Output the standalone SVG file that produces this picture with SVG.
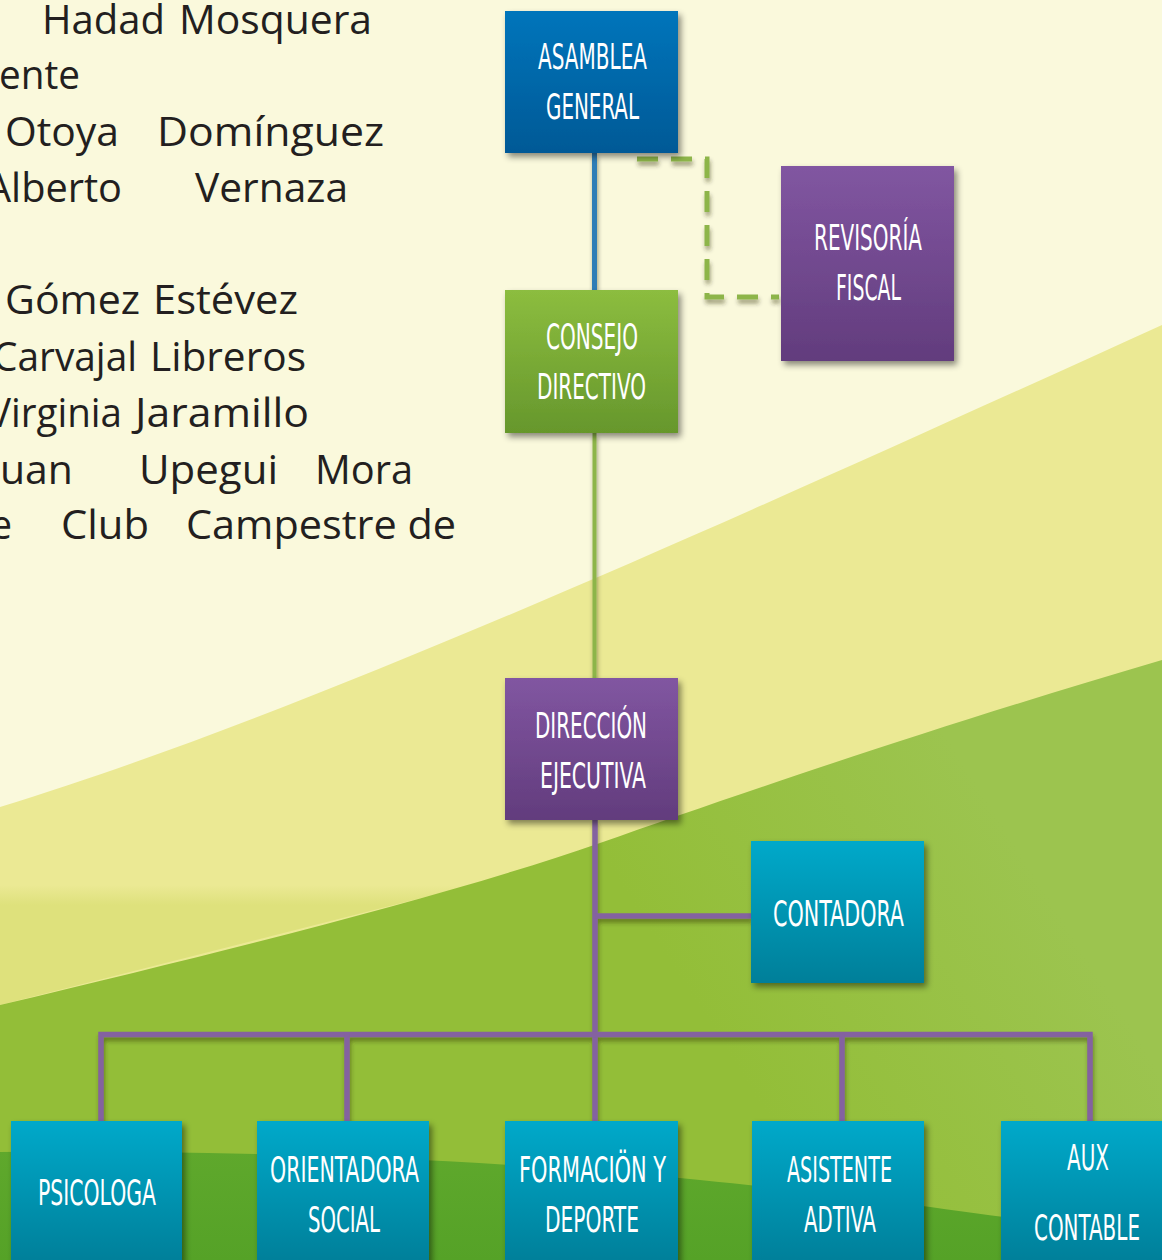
<svg xmlns="http://www.w3.org/2000/svg" width="1162" height="1260" viewBox="0 0 1162 1260">
<style>
.nt{font-family:"Liberation Sans Narrow","DejaVu Sans Condensed","Open Sans",sans-serif;font-size:36px;fill:#ffffff;}
.lt{font-family:"Open Sans","Noto Sans",sans-serif;font-size:40px;fill:#231F20;}
.con{fill:none;stroke-linejoin:miter;stroke-linecap:butt;}
</style>
<defs>
<linearGradient id="gBlue" x1="0" y1="0" x2="0" y2="1"><stop offset="0" stop-color="#0075BB"/><stop offset="1" stop-color="#005996"/></linearGradient>
<linearGradient id="gPurple" x1="0" y1="0" x2="0" y2="1"><stop offset="0" stop-color="#8156A1"/><stop offset="1" stop-color="#623C7D"/></linearGradient>
<linearGradient id="gGreen" x1="0" y1="0" x2="0" y2="1"><stop offset="0" stop-color="#8CBD3F"/><stop offset="1" stop-color="#66972C"/></linearGradient>
<linearGradient id="gTeal" x1="0" y1="0" x2="0" y2="1"><stop offset="0" stop-color="#00A9CA"/><stop offset="1" stop-color="#007F99"/></linearGradient>
<linearGradient id="gHill" x1="0" y1="0" x2="0" y2="1"><stop offset="0" stop-color="#5FA82C"/><stop offset="1" stop-color="#55A227"/></linearGradient>
<linearGradient id="gField" gradientUnits="userSpaceOnUse" x1="700" y1="1010" x2="1000" y2="820"><stop offset="0" stop-color="#93BE38"/><stop offset="1" stop-color="#9CC44F"/></linearGradient>
<linearGradient id="gBand" gradientUnits="userSpaceOnUse" x1="0" y1="885" x2="0" y2="905"><stop offset="0" stop-color="#EBE994"/><stop offset="1" stop-color="#DEE17C"/></linearGradient>
<filter id="sh" x="-20%" y="-20%" width="140%" height="140%"><feDropShadow dx="3" dy="4" stdDeviation="3" flood-color="#000" flood-opacity="0.45"/></filter>
<filter id="shl" x="-5%" y="-5%" width="110%" height="110%"><feDropShadow dx="1" dy="4" stdDeviation="2" flood-color="#2a2a10" flood-opacity="0.45"/></filter>
</defs>

<g id="background">
<rect x="0" y="0" width="1162" height="1260" fill="#FAF9DC"/>
<path d="M0,807 C300,715 700,535 1162,325 L1162,1260 L0,1260 Z" fill="#EBE994"/>
<path d="M0,880 L520,880 L520,873 L0,1005 Z" fill="url(#gBand)"/>
<path d="M0,1005 C250,945 450,895 600,843 C750,790 950,722 1162,660 L1162,1260 L0,1260 Z" fill="url(#gField)"/>
<path d="M0,1152 C250,1150 500,1160 700,1180 C900,1200 1050,1225 1162,1238 L1162,1260 L0,1260 Z" fill="url(#gHill)"/>
</g>

<g id="left-text">
<text class="lt" x="42" y="34" textLength="123" lengthAdjust="spacingAndGlyphs">Hadad</text>
<text class="lt" x="179" y="34" textLength="193" lengthAdjust="spacingAndGlyphs">Mosquera</text>
<text class="lt" x="-1" y="89" textLength="81" lengthAdjust="spacingAndGlyphs">ente</text>
<text class="lt" x="5" y="146" textLength="114" lengthAdjust="spacingAndGlyphs">Otoya</text>
<text class="lt" x="157" y="146" textLength="227" lengthAdjust="spacingAndGlyphs">Domínguez</text>
<text class="lt" x="-14" y="202" textLength="136" lengthAdjust="spacingAndGlyphs">Alberto</text>
<text class="lt" x="195" y="202" textLength="153" lengthAdjust="spacingAndGlyphs">Vernaza</text>
<text class="lt" x="5" y="314" textLength="135" lengthAdjust="spacingAndGlyphs">Gómez</text>
<text class="lt" x="153" y="314" textLength="145" lengthAdjust="spacingAndGlyphs">Estévez</text>
<text class="lt" x="-7" y="371" textLength="144" lengthAdjust="spacingAndGlyphs">Carvajal</text>
<text class="lt" x="150" y="371" textLength="156" lengthAdjust="spacingAndGlyphs">Libreros</text>
<text class="lt" x="-12" y="427" textLength="134" lengthAdjust="spacingAndGlyphs">Virginia</text>
<text class="lt" x="135" y="427" textLength="174" lengthAdjust="spacingAndGlyphs">Jaramillo</text>
<text class="lt" x="0" y="484" textLength="73" lengthAdjust="spacingAndGlyphs">uan</text>
<text class="lt" x="139" y="484" textLength="139" lengthAdjust="spacingAndGlyphs">Upegui</text>
<text class="lt" x="315" y="484" textLength="98" lengthAdjust="spacingAndGlyphs">Mora</text>
<text class="lt" x="-9" y="539" textLength="21" lengthAdjust="spacingAndGlyphs">e</text>
<text class="lt" x="61" y="539" textLength="88" lengthAdjust="spacingAndGlyphs">Club</text>
<text class="lt" x="186" y="539" textLength="270" lengthAdjust="spacingAndGlyphs">Campestre de</text>
</g>

<g id="connectors" filter="url(#shl)">
<line class="con" x1="594.5" y1="153" x2="594.5" y2="290" stroke="#2F7DB6" stroke-width="5"/>
<line class="con" x1="594.5" y1="433" x2="594.5" y2="678" stroke="#8DB54A" stroke-width="4"/>
<polyline class="con" points="637,159 707,159 707,297 779,297" stroke="#8DB54A" stroke-width="5" stroke-dasharray="21 13"/>
<line class="con" x1="595" y1="820" x2="595" y2="1123" stroke="#8462A0" stroke-width="5.5"/>
<line class="con" x1="595" y1="916" x2="751" y2="916" stroke="#8462A0" stroke-width="5.5"/>
<polyline class="con" points="101,1123 101,1034.5 1090,1034.5 1090,1123" stroke="#8462A0" stroke-width="5.5"/>
<line class="con" x1="347" y1="1034.5" x2="347" y2="1123" stroke="#8462A0" stroke-width="5.5"/>
<line class="con" x1="842" y1="1034.5" x2="842" y2="1123" stroke="#8462A0" stroke-width="5.5"/>
</g>

<g id="asamblea-general">
<rect x="505" y="11" width="173" height="142" fill="url(#gBlue)" filter="url(#sh)"/>
<text class="nt" x="538" y="69" textLength="109" lengthAdjust="spacingAndGlyphs">ASAMBLEA</text>
<text class="nt" x="546" y="119" textLength="93" lengthAdjust="spacingAndGlyphs">GENERAL</text>
</g>
<g id="revisoria-fiscal">
<rect x="781" y="166" width="173" height="195" fill="url(#gPurple)" filter="url(#sh)"/>
<text class="nt" x="814" y="250" textLength="108" lengthAdjust="spacingAndGlyphs">REVISORÍA</text>
<text class="nt" x="836" y="300" textLength="65" lengthAdjust="spacingAndGlyphs">FISCAL</text>
</g>
<g id="consejo-directivo">
<rect x="505" y="290" width="173" height="143" fill="url(#gGreen)" filter="url(#sh)"/>
<text class="nt" x="546" y="349" textLength="92" lengthAdjust="spacingAndGlyphs">CONSEJO</text>
<text class="nt" x="537" y="399" textLength="109" lengthAdjust="spacingAndGlyphs">DIRECTIVO</text>
</g>
<g id="direccion-ejecutiva">
<rect x="505" y="678" width="173" height="142" fill="url(#gPurple)" filter="url(#sh)"/>
<text class="nt" x="535" y="738" textLength="112" lengthAdjust="spacingAndGlyphs">DIRECCIÓN</text>
<text class="nt" x="540" y="788" textLength="106" lengthAdjust="spacingAndGlyphs">EJECUTIVA</text>
</g>
<g id="contadora">
<rect x="751" y="841" width="173" height="142" fill="url(#gTeal)" filter="url(#sh)"/>
<text class="nt" x="773" y="926" textLength="131" lengthAdjust="spacingAndGlyphs">CONTADORA</text>
</g>
<g id="psicologa">
<rect x="11" y="1121" width="171" height="142" fill="url(#gTeal)" filter="url(#sh)"/>
<text class="nt" x="38" y="1205" textLength="118" lengthAdjust="spacingAndGlyphs">PSICOLOGA</text>
</g>
<g id="orientadora-social">
<rect x="257" y="1121" width="172" height="142" fill="url(#gTeal)" filter="url(#sh)"/>
<text class="nt" x="270" y="1182" textLength="149" lengthAdjust="spacingAndGlyphs">ORIENTADORA</text>
<text class="nt" x="308" y="1232" textLength="72" lengthAdjust="spacingAndGlyphs">SOCIAL</text>
</g>
<g id="formacion-deporte">
<rect x="505" y="1121" width="173" height="142" fill="url(#gTeal)" filter="url(#sh)"/>
<text class="nt" x="519" y="1182" textLength="147" lengthAdjust="spacingAndGlyphs">FORMACIÖN Y</text>
<text class="nt" x="545" y="1232" textLength="94" lengthAdjust="spacingAndGlyphs">DEPORTE</text>
</g>
<g id="asistente-adtiva">
<rect x="752" y="1121" width="172" height="142" fill="url(#gTeal)" filter="url(#sh)"/>
<text class="nt" x="787" y="1182" textLength="105" lengthAdjust="spacingAndGlyphs">ASISTENTE</text>
<text class="nt" x="804" y="1232" textLength="72" lengthAdjust="spacingAndGlyphs">ADTIVA</text>
</g>
<g id="aux-contable">
<rect x="1001" y="1121" width="173" height="142" fill="url(#gTeal)" filter="url(#sh)"/>
<text class="nt" x="1067" y="1170" textLength="42" lengthAdjust="spacingAndGlyphs">AUX</text>
<text class="nt" x="1034" y="1240" textLength="106" lengthAdjust="spacingAndGlyphs">CONTABLE</text>
</g>
</svg>
